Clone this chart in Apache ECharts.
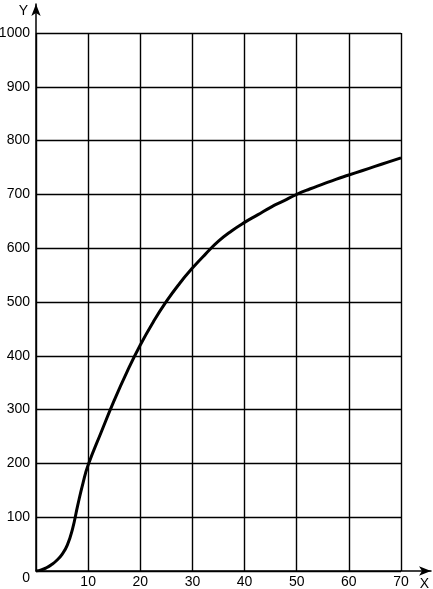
<!DOCTYPE html>
<html><head><meta charset="utf-8">
<script src="https://cdn.jsdelivr.net/npm/echarts@6/dist/echarts.min.js"></script>
<style>html,body{margin:0;padding:0;background:#fff}#c{width:433px;height:589px}</style>
</head><body><div id="c"></div>
<script>
const xValues = [0, 1, 2, 3, 4, 5, 6, 7, 8, 9, 10, 12.5, 15, 17.5, 20, 22.5, 25, 27.5, 30, 32.5, 35, 37.5, 40, 42.5, 45, 47.5, 50, 52.5, 55, 57.5, 60, 62.5, 65, 67.5, 70];
const yValues = [0, 2, 6, 12, 20, 31, 48, 78, 122, 163, 197, 258, 317, 371, 420, 463, 501, 534, 563, 589, 613, 632, 648, 662, 676, 688, 700, 710, 719, 728, 736, 744, 752, 760, 768];
const xTicks = [0, 10, 20, 30, 40, 50, 60, 70];
const yTicks = [0, 100, 200, 300, 400, 500, 600, 700, 800, 900, 1000];
const xName = 'X', yName = 'Y';

const chart = echarts.init(document.getElementById('c'), null, {renderer: 'canvas'});
const font = "'Liberation Sans', Arial, sans-serif";
const fs = 14;
const lineCol = '#000';
chart.setOption({
  animation: false,
  backgroundColor: '#fff',
  grid: [
    {left: 36, right: 32, top: 33, bottom: 18, containLabel: false, outerBoundsMode: 'none'},
    {left: 36, right: 2, top: 4, bottom: 18, containLabel: false, outerBoundsMode: 'none'}
  ],
  xAxis: [{
    type: 'value', gridIndex: 0, min: xTicks[0], max: xTicks[xTicks.length - 1], interval: 10,
    axisLine: {show: false}, axisTick: {show: false},
    splitLine: {show: true, lineStyle: {color: lineCol, width: 1.4}},
    axisLabel: {
      margin: 4, color: '#000', fontSize: fs, fontFamily: font, showMinLabel: false,
      formatter: v => String(v)
    }
  }, {
    type: 'value', gridIndex: 1, min: 0, max: 1,
    axisLine: {show: true, symbol: ['none', 'arrow'], symbolSize: [7, 12], lineStyle: {color: lineCol, width: 1.5}},
    axisTick: {show: false}, axisLabel: {show: false}, splitLine: {show: false},
    name: xName, nameLocation: 'end', nameGap: -2,
    nameTextStyle: {align: 'right', verticalAlign: 'top', padding: [6, 0, 0, 0], fontSize: fs, fontFamily: font, color: '#000'}
  }],
  yAxis: [{
    type: 'value', gridIndex: 0, min: yTicks[0], max: yTicks[yTicks.length - 1], interval: 100,
    axisLine: {show: false}, axisTick: {show: false},
    splitLine: {show: true, lineStyle: {color: lineCol, width: 1.4}},
    axisLabel: {
      margin: 6, color: '#000', fontSize: fs, fontFamily: font,
      formatter: v => v === 0 ? '{z|0}' : String(v),
      rich: {z: {fontSize: fs, fontFamily: font, color: '#000', padding: [14, 0, 0, 0]}}
    }
  }, {
    type: 'value', gridIndex: 1, min: 0, max: 1,
    axisLine: {show: true, symbol: ['none', 'arrow'], symbolSize: [7, 12], lineStyle: {color: lineCol, width: 1.5}},
    axisTick: {show: false}, axisLabel: {show: false}, splitLine: {show: false},
    name: yName, nameLocation: 'end', nameGap: 0,
    nameTextStyle: {align: 'right', verticalAlign: 'top', padding: [0, 8, 0, 0], fontSize: fs, fontFamily: font, color: '#000'}
  }],
  series: [{
    type: 'line', xAxisIndex: 0, yAxisIndex: 0,
    data: xValues.map((x, i) => [x, yValues[i]]),
    smooth: 0.5, showSymbol: false, symbol: 'none',
    lineStyle: {color: '#000', width: 3}
  }]
});
</script></body></html>
